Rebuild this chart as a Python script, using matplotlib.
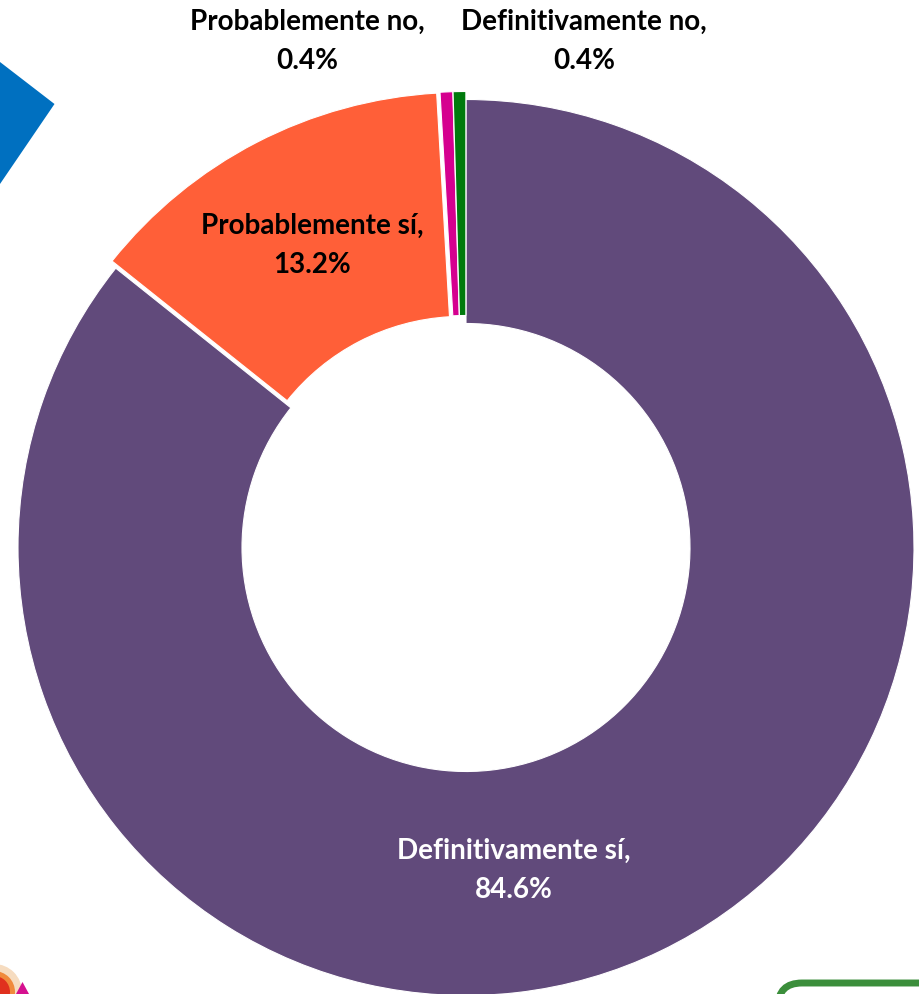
import matplotlib
matplotlib.use("Agg")
import matplotlib.pyplot as plt
from matplotlib.patches import Polygon, FancyBboxPatch, Circle

categories = ["Definitivamente sí", "Probablemente sí", "Probablemente no", "Definitivamente no"]
values = [84.6, 13.2, 0.45, 0.45]
colors = ["#614A7B", "#FF5F38", "#D5008F", "#007A0C"]
labels = ["Definitivamente sí,\n84.6%", "Probablemente sí,\n13.2%",
          "Probablemente no,\n0.4%", "Definitivamente no,\n0.4%"]
label_colors = ["white", "black", "black", "black"]
label_pos = [(514, 870), (312, 245), (307, 41), (584, 41)]
explode = [0, 8, 8, 8]

W, H = 919, 995
fig = plt.figure(figsize=(W / 100, H / 100), dpi=100)
ax = fig.add_axes([0, 0, 1, 1])
ax.set_xlim(0, W)
ax.set_ylim(0, H)
ax.axis("off")

ax.pie(values, colors=colors, startangle=90, counterclock=False, explode=explode,
       center=(466, H - 548.5), radius=448, frame=True,
       wedgeprops=dict(width=224, edgecolor="white", linewidth=0.8))
ax.set_xlim(0, W)
ax.set_ylim(0, H)
ax.set_aspect("equal")
ax.axis("off")

for text, color, (x, y) in zip(labels, label_colors, label_pos):
    ax.text(x, H - y, text, color=color, ha="center", va="center", fontsize=20,
            family="Lato", fontweight="bold", linespacing=1.62)

# Cropped decorations at the edges of the picture
ax.add_patch(Polygon([(0, H - 63), (54.5, H - 105), (0, H - 185)], closed=True,
                     facecolor="#0070C0", edgecolor="none"))
ax.add_patch(FancyBboxPatch((778, H - 1040), 170, 56, boxstyle="round,pad=0,rounding_size=24",
                            facecolor="white", edgecolor="#3B8E3B", linewidth=5))
for r, c in [(28, "#F6DCC0"), (21, "#F08A3C"), (16, "#E0301E")]:
    ax.add_patch(Circle((-6, H - 993), r, facecolor=c, edgecolor="none"))
ax.add_patch(Polygon([(16, 0), (22.5, H - 983), (29, 0)], closed=True,
                     facecolor="#D5108F", edgecolor="none"))

fig.savefig("out.png", dpi=100, facecolor="white")
